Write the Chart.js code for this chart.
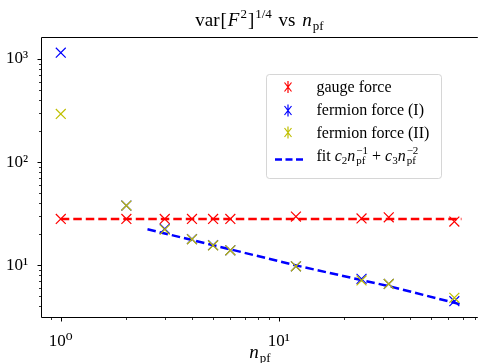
<!DOCTYPE html>
<html>
<head>
<meta charset="utf-8">
<script src="https://cdn.jsdelivr.net/npm/chart.js@4.4.1/dist/chart.umd.min.js"></script>
<style>
  body { margin: 0; background: #fff; }
  #wrap { width: 486px; height: 363px; position: relative; }
</style>
</head>
<body>
<div id="wrap"><canvas id="chart"></canvas></div>
<script>
// values
const nPf = [1, 2, 3, 4, 5, 6, 12, 24, 32, 64];
const gaugeForce = [28.2, 28.2, 28.2, 28.2, 28.2, 28.2, 29.7, 28.5, 29.2, 26.6];
const fermionForceI = [1150, 38, 22.6, 18.0, 15.7, 14.0, 9.8, 7.4, 6.6, 4.5];
const fermionForceII = [293, 38, 22.2, 17.9, 15.6, 14.0, 9.8, 7.15, 6.6, 4.85];

const gaugeLineX = [1, 69];
const gaugeLineY = [28.2, 28.2];
const fitX = [2.5, 6, 12, 24, 32, 69.5];
const fitY = [22.4, 14.3, 10.0, 7.2, 6.3, 4.15];

const xDecades = [1, 10];
const yDecades = [10, 100, 1000];
const sup = { 0: "\u2070", 1: "\u00b9", 2: "\u00b2", 3: "\u00b3" };

const FAMILY = "'Liberation Serif', 'DejaVu Serif', serif";
const RED = "#ff0000";
const BLUE = "#0000ff";
const YELLOW = "#bfbf00";

function pts(xs, ys) {
  return xs.map((x, i) => ({ x: x, y: ys[i] }));
}

// rich text: parts {s, i (italic), v ('sup'|'sub'), k (keep x, stack with next)}
function drawRich(ctx, parts, x, y, size, align) {
  const fontFor = (p) => (p.i ? "italic " : "") + (p.v ? Math.round(size * 0.7) : size) + "px " + FAMILY;
  let w = 0;
  let stackW = 0;
  const xs = [];
  parts.forEach((p) => {
    ctx.font = fontFor(p);
    const pw = ctx.measureText(p.s).width + (p.pad || 0);
    xs.push(w);
    if (p.k) {
      stackW = Math.max(stackW, pw);
    } else {
      w += Math.max(pw, stackW);
      stackW = 0;
    }
  });
  const x0 = align === "center" ? x - w / 2 : x;
  ctx.fillStyle = "#000";
  ctx.textBaseline = "alphabetic";
  ctx.textAlign = "left";
  parts.forEach((p, i) => {
    ctx.font = fontFor(p);
    let dy = 0;
    if (p.v === "sup") dy = -0.42 * size;
    if (p.v === "sub") dy = 0.22 * size;
    ctx.fillText(p.s, x0 + xs[i], y + dy);
  });
}

function buildTicks(decades, min, max) {
  const out = [];
  const all = [decades[0] / 10].concat(decades).concat([decades[decades.length - 1] * 10]);
  all.forEach((d) => {
    for (let m = 1; m <= 9; m++) {
      const v = m * d;
      if (v >= min && v <= max && !out.some((t) => Math.abs(t.value - v) < 1e-9)) {
        out.push({ value: v, major: m === 1 });
      }
    }
  });
  return out.sort((a, b) => a.value - b.value);
}

const titleParts = [
  { s: "var", pad: 1 }, { s: "[", pad: 1 }, { s: "F", i: 1, pad: 1 }, { s: "2", v: "sup", pad: 1 }, { s: "]", pad: 1 },
  { s: "1/4", v: "sup", pad: 2 }, { s: " vs ", pad: 2 }, { s: "n", i: 1, pad: 1 }, { s: "pf", v: "sub", pad: 1 }
];
const xTitleParts = [{ s: "n", i: 1, pad: 1 }, { s: "pf", v: "sub" }];
const fitLabelParts = [
  { s: "fit " }, { s: "c", i: 1 }, { s: "2", v: "sub" }, { s: "n", i: 1, pad: 1 },
  { s: "\u22121", v: "sup", k: 1 }, { s: "pf", v: "sub" }, { s: " + " },
  { s: "c", i: 1 }, { s: "3", v: "sub" }, { s: "n", i: 1, pad: 1 },
  { s: "\u22122", v: "sup", k: 1 }, { s: "pf", v: "sub" }
];

const overlay = {
  id: "overlay",
  afterDraw(chart) {
    const ctx = chart.ctx;
    const a = chart.chartArea;
    ctx.save();

    // spines
    ctx.strokeStyle = "#000";
    ctx.lineWidth = 1;
    ctx.beginPath();
    ctx.moveTo(a.left - 0.5, a.bottom + 0.5);
    ctx.lineTo(a.left - 0.5, a.top - 0.5);
    ctx.lineTo(a.right, a.top - 0.5);
    ctx.moveTo(a.left - 0.5, a.bottom + 0.5);
    ctx.lineTo(a.right, a.bottom + 0.5);
    ctx.stroke();

    // tick marks, outward
    const xs = chart.scales.x;
    xs.ticks.forEach((t) => {
      const px = Math.round(xs.getPixelForValue(t.value)) + 0.5;
      ctx.lineWidth = t.major ? 1 : 0.8;
      ctx.beginPath();
      ctx.moveTo(px, a.bottom + 1);
      ctx.lineTo(px, a.bottom + 1 + (t.major ? 3.5 : 2));
      ctx.stroke();
    });
    const ys = chart.scales.y;
    ys.ticks.forEach((t) => {
      const py = Math.round(ys.getPixelForValue(t.value)) + 0.5;
      ctx.lineWidth = t.major ? 1 : 0.8;
      ctx.beginPath();
      ctx.moveTo(a.left - 1, py);
      ctx.lineTo(a.left - 1 - (t.major ? 3.5 : 2), py);
      ctx.stroke();
    });

    // title and axis label
    drawRich(ctx, titleParts, (a.left + a.right) / 2, 26, 19, "center");
    drawRich(ctx, xTitleParts, (a.left + a.right) / 2, 358, 19, "center");

    // legend
    const lx = 266, ly = 74, lw = 175, lh = 104, r = 3;
    ctx.globalAlpha = 0.8;
    ctx.fillStyle = "#fff";
    ctx.strokeStyle = "#cccccc";
    ctx.lineWidth = 1;
    ctx.beginPath();
    ctx.roundRect(lx + 0.5, ly + 0.5, lw, lh, r);
    ctx.fill();
    ctx.stroke();
    ctx.globalAlpha = 1;

    const rows = [
      { ds: chart.data.datasets[2], cy: 87, base: 91.5 },
      { ds: chart.data.datasets[1], cy: 110.5, base: 115 },
      { ds: chart.data.datasets[0], cy: 132.5, base: 137.5 }
    ];
    rows.forEach((row) => {
      const mx = 288;
      ctx.strokeStyle = row.ds.borderColor;
      ctx.lineWidth = 1.2;
      ctx.beginPath();
      ctx.moveTo(mx - 3.5, row.cy - 4.5);
      ctx.lineTo(mx + 3.5, row.cy + 4.5);
      ctx.moveTo(mx + 3.5, row.cy - 4.5);
      ctx.lineTo(mx - 3.5, row.cy + 4.5);
      ctx.moveTo(mx, row.cy - 6);
      ctx.lineTo(mx, row.cy + 6);
      ctx.stroke();
      drawRich(ctx, [{ s: row.ds.label }], 316.5, row.base, 16, "left");
    });
    ctx.strokeStyle = BLUE;
    ctx.lineWidth = 2.5;
    ctx.setLineDash([7, 3.5]);
    ctx.beginPath();
    ctx.moveTo(275, 159.5);
    ctx.lineTo(303, 159.5);
    ctx.stroke();
    ctx.setLineDash([]);
    drawRich(ctx, fitLabelParts, 316.5, 160.5, 16, "left");

    ctx.restore();
  }
};

const xMin = 0.82, xMax = 82;
const yMin = 3.16, yMax = 1597;

function markerSet(label, values, color) {
  return {
    label: label,
    data: pts(nPf, values),
    pointStyle: "crossRot",
    pointRadius: 7,
    borderColor: color,
    backgroundColor: color,
    borderWidth: 1.2,
    showLine: false
  };
}

new Chart(document.getElementById("chart"), {
  type: "scatter",
  data: {
    datasets: [
      markerSet("fermion force (II)", fermionForceII, YELLOW),
      markerSet("fermion force (I)", fermionForceI, BLUE),
      markerSet("gauge force", gaugeForce, RED),
      {
        label: "gauge line",
        data: pts(gaugeLineX, gaugeLineY),
        showLine: true,
        pointRadius: 0,
        borderColor: RED,
        borderWidth: 2.5,
        borderDash: [8.5, 4]
      },
      {
        label: "fit",
        data: pts(fitX, fitY),
        showLine: true,
        pointRadius: 0,
        borderColor: BLUE,
        borderWidth: 2.5,
        borderDash: [8.5, 4]
      }
    ]
  },
  options: {
    responsive: true,
    maintainAspectRatio: false,
    animation: false,
    layout: { padding: { top: 38, left: 0, right: 0, bottom: 0 } },
    plugins: {
      legend: { display: false },
      tooltip: { enabled: false },
      title: { display: false }
    },
    scales: {
      x: {
        type: "logarithmic",
        min: xMin,
        max: xMax,
        grid: { display: false },
        border: { display: false },
        afterBuildTicks: (scale) => { scale.ticks = buildTicks(xDecades, xMin, xMax); },
        afterFit: (scale) => { scale.height = 46; },
        ticks: {
          autoSkip: false,
          maxRotation: 0,
          padding: 6,
          color: "#000",
          font: { family: FAMILY, size: 17 },
          callback: (v) => {
            const e = Math.round(Math.log10(v));
            return xDecades.includes(v) ? "10" + sup[e] : "";
          }
        }
      },
      y: {
        type: "logarithmic",
        min: yMin,
        max: yMax,
        grid: { display: false },
        border: { display: false },
        afterBuildTicks: (scale) => { scale.ticks = buildTicks(yDecades, yMin, yMax); },
        afterFit: (scale) => { scale.width = 42; },
        ticks: {
          autoSkip: false,
          padding: 6,
          color: "#000",
          font: { family: FAMILY, size: 17 },
          callback: (v) => {
            const e = Math.round(Math.log10(v));
            return yDecades.includes(v) ? "10" + sup[e] : "";
          }
        }
      }
    }
  },
  plugins: [overlay]
});
</script>
</body>
</html>
